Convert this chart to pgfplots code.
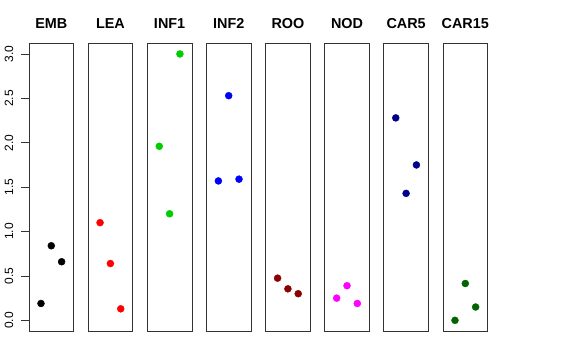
\documentclass[border=0pt]{standalone}
\usepackage{pgfplots}
\pgfplotsset{compat=1.18}
\usepackage{fontspec}
\setmainfont{Liberation Sans}
\definecolor{rgreen}{RGB}{0,205,0}
\definecolor{rdarkred}{RGB}{139,0,0}
\definecolor{rmagenta}{RGB}{255,0,255}
\definecolor{rnavy}{RGB}{0,0,139}
\definecolor{rdarkgreen}{RGB}{0,100,0}
\pgfplotsset{
  panel/.style={
    scale only axis, width=44.6bp, height=287.7bp,
    anchor=south west,
    xmin=-0.16, xmax=4.16, ymin=-0.12, ymax=3.12,
    xtick=\empty, ytick=\empty,
    axis line style={line width=0.75bp, black!80},
    axis background/.style={fill=white},
    title style={at={(0.5,1)}, anchor=base, yshift=9bp, font=\fontsize{14.4bp}{16bp}\selectfont\bfseries},
  },
  pts/.style={only marks, mark=*, mark size=3.5bp, color=#1, mark options={fill=#1, draw=#1}},
}
\begin{document}
\begin{tikzpicture}
\useasboundingbox (0bp,0bp) rectangle (576bp,360bp);
\begin{axis}[
  scale only axis, width=20bp, height=287.7bp,
  anchor=south west, at={(29bp,29bp)},
  xmin=0, xmax=1, ymin=-0.12, ymax=3.12,
  xtick=\empty,
  axis line style={line width=0.75bp, black!80},
  ytick={0,0.5,1,1.5,2,2.5,3},
  /pgf/number format/assume math mode=true,
  /pgf/number format/.cd, fixed, fixed zerofill, precision=1, /pgfplots/.cd,
  tick align=outside, major tick length=7.5bp,
  ytick style={line width=0.75bp, black!80},
  yticklabel style={rotate=90, anchor=south, inner sep=0pt, yshift=8bp, font=\fontsize{12bp}{14bp}\selectfont},
  ]
\end{axis}
\begin{axis}[panel, at={(29bp,29bp)}, title={EMB}]
\addplot[pts=black] coordinates {(1,0.19) (2,0.84) (3,0.66)};
\end{axis}
\begin{axis}[panel, at={(88.1bp,29bp)}, title={LEA}]
\addplot[pts=red] coordinates {(1,1.10) (2,0.64) (3,0.13)};
\end{axis}
\begin{axis}[panel, at={(147.3bp,29bp)}, title={INF1}]
\addplot[pts=rgreen] coordinates {(1,1.96) (2,1.20) (3,3.00)};
\end{axis}
\begin{axis}[panel, at={(206.4bp,29bp)}, title={INF2}]
\addplot[pts=blue] coordinates {(1,1.57) (2,2.53) (3,1.59)};
\end{axis}
\begin{axis}[panel, at={(265.6bp,29bp)}, title={ROO}]
\addplot[pts=rdarkred] coordinates {(1,0.475) (2,0.355) (3,0.30)};
\end{axis}
\begin{axis}[panel, at={(324.7bp,29bp)}, title={NOD}]
\addplot[pts=rmagenta] coordinates {(1,0.25) (2,0.39) (3,0.19)};
\end{axis}
\begin{axis}[panel, at={(383.8bp,29bp)}, title={CAR5}]
\addplot[pts=rnavy] coordinates {(1,2.28) (2,1.43) (3,1.75)};
\end{axis}
\begin{axis}[panel, at={(443bp,29bp)}, title={CAR15}]
\addplot[pts=rdarkgreen] coordinates {(1,0.00) (2,0.415) (3,0.15)};
\end{axis}
\end{tikzpicture}
\end{document}
